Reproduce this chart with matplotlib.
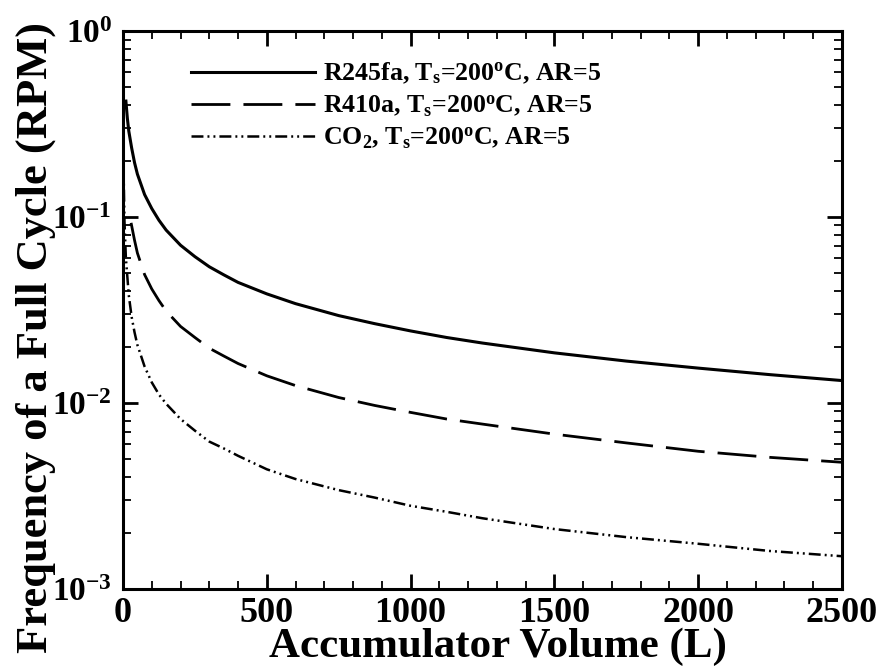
import matplotlib
matplotlib.use("Agg")
import matplotlib.pyplot as plt
from matplotlib.ticker import MultipleLocator, LogLocator, FixedLocator, NullFormatter

plt.rcParams["font.family"] = ["Liberation Serif", "DejaVu Serif"]
plt.rcParams["font.weight"] = "bold"
plt.rcParams["mathtext.fontset"] = "custom"
plt.rcParams["mathtext.rm"] = "Liberation Serif:bold"
plt.rcParams["mathtext.it"] = "Liberation Serif:bold"
plt.rcParams["mathtext.bf"] = "Liberation Serif:bold"

# Accumulator volume (L) and full-cycle frequency (RPM) for each working fluid
vol_r245fa = [10, 15, 20, 30, 40, 50, 75, 100, 125, 150, 200, 250, 300, 350,
              400, 500, 600, 750, 875, 1000, 1125, 1250, 1500, 1750, 2000,
              2250, 2500]
freq_r245fa = [0.42, 0.34, 0.29, 0.235, 0.196, 0.170, 0.132, 0.111, 0.096,
               0.085, 0.0705, 0.0612, 0.054, 0.0489, 0.0445, 0.0386, 0.0342,
               0.0295, 0.0267, 0.0244, 0.0225, 0.0210, 0.0186, 0.0168, 0.0154,
               0.0142, 0.0132]

vol_r410a = [28, 40, 50, 75, 100, 125, 150, 200, 250, 300, 350, 400, 500, 600,
             750, 875, 1000, 1125, 1250, 1500, 1750, 2000, 2250, 2500]
freq_r410a = [0.093, 0.075, 0.064, 0.049, 0.041, 0.0355, 0.0312, 0.0258,
              0.0225, 0.0197, 0.0179, 0.0163, 0.0140, 0.0124, 0.0107, 0.0097,
              0.0089, 0.0082, 0.0077, 0.0068, 0.0061, 0.0055, 0.0051, 0.0048]

vol_co2 = [1, 2, 5, 10, 20, 30, 40, 50, 75, 100, 125, 150, 200, 250, 300, 350,
           400, 500, 600, 750, 875, 1000, 1125, 1250, 1500, 1750, 2000, 2250,
           2500]
freq_co2 = [0.28, 0.175, 0.095, 0.060, 0.038, 0.029, 0.024, 0.0205, 0.0157,
            0.0129, 0.0111, 0.0099, 0.0082, 0.0071, 0.0062, 0.0057, 0.0052,
            0.0044, 0.0039, 0.0034, 0.0031, 0.0028, 0.0026, 0.0024, 0.0021,
            0.0019, 0.00175, 0.0016, 0.0015]

labels = [r"R245fa, T$_\mathrm{s}$=200$^\mathrm{o}$C, AR=5",
          r"R410a, T$_\mathrm{s}$=200$^\mathrm{o}$C, AR=5",
          r"CO$_\mathrm{2}$, T$_\mathrm{s}$=200$^\mathrm{o}$C, AR=5"]

fig = plt.figure(figsize=(8.8, 6.68), dpi=100)
ax = fig.add_axes([0.1398, 0.1183, 0.8170, 0.8353])

ax.plot(vol_r245fa, freq_r245fa, color="black", lw=2.2, label=labels[0])
lw2 = 2.0
l2, = ax.plot(vol_r410a, freq_r410a, color="black", lw=lw2, label=labels[1])
l2.set_dashes([28 / lw2, 9.4 / lw2])
lw3 = 1.8
l3, = ax.plot(vol_co2, freq_co2, color="black", lw=lw3, label=labels[2])
l3.set_dashes([v / lw3 for v in (8.6, 2.9, 1.4, 2.9, 1.4, 2.9)])

ax.set_yscale("log")
ax.set_xlim(0, 2500)
ax.set_ylim(1e-3, 1e0)

ax.xaxis.set_major_locator(MultipleLocator(500))
ax.xaxis.set_minor_locator(MultipleLocator(100))
ax.yaxis.set_major_locator(FixedLocator([1e-3, 1e-2, 1e-1, 1e0]))
ax.yaxis.set_minor_locator(LogLocator(base=10, subs=range(2, 10)))
ax.yaxis.set_minor_formatter(NullFormatter())
ax.set_yticklabels([r"$10^{-3}$", r"$10^{-2}$", r"$10^{-1}$", r"$10^{0}$"])

ax.tick_params(which="both", direction="in", top=True, right=True, width=1.3,
               colors="black")
ax.tick_params(which="major", length=11, width=2.0)
ax.tick_params(which="minor", length=6)
ax.tick_params(axis="x", which="major", labelsize=26, pad=6)
ax.tick_params(axis="y", which="major", labelsize=24, pad=8)
for sp in ax.spines.values():
    sp.set_linewidth(2.2)

ax.set_xlabel("Accumulator Volume (L)", fontsize=31, fontweight="bold")
ax.xaxis.set_label_coords(0.522, -0.138)
ax.xaxis.label.set_va("bottom")
ax.set_ylabel("Frequency of a Full Cycle (RPM)", fontsize=32, fontweight="bold")
ax.yaxis.set_label_coords(-0.122, 0.45)
ax.yaxis.label.set_va("center")

leg = ax.legend(loc="upper left", bbox_to_anchor=(0.08, 0.965), frameon=False,
                fontsize=18.6, handlelength=4.8, handletextpad=0.3,
                labelspacing=0.28, borderaxespad=0)

fig.savefig("out.png", dpi=100)
